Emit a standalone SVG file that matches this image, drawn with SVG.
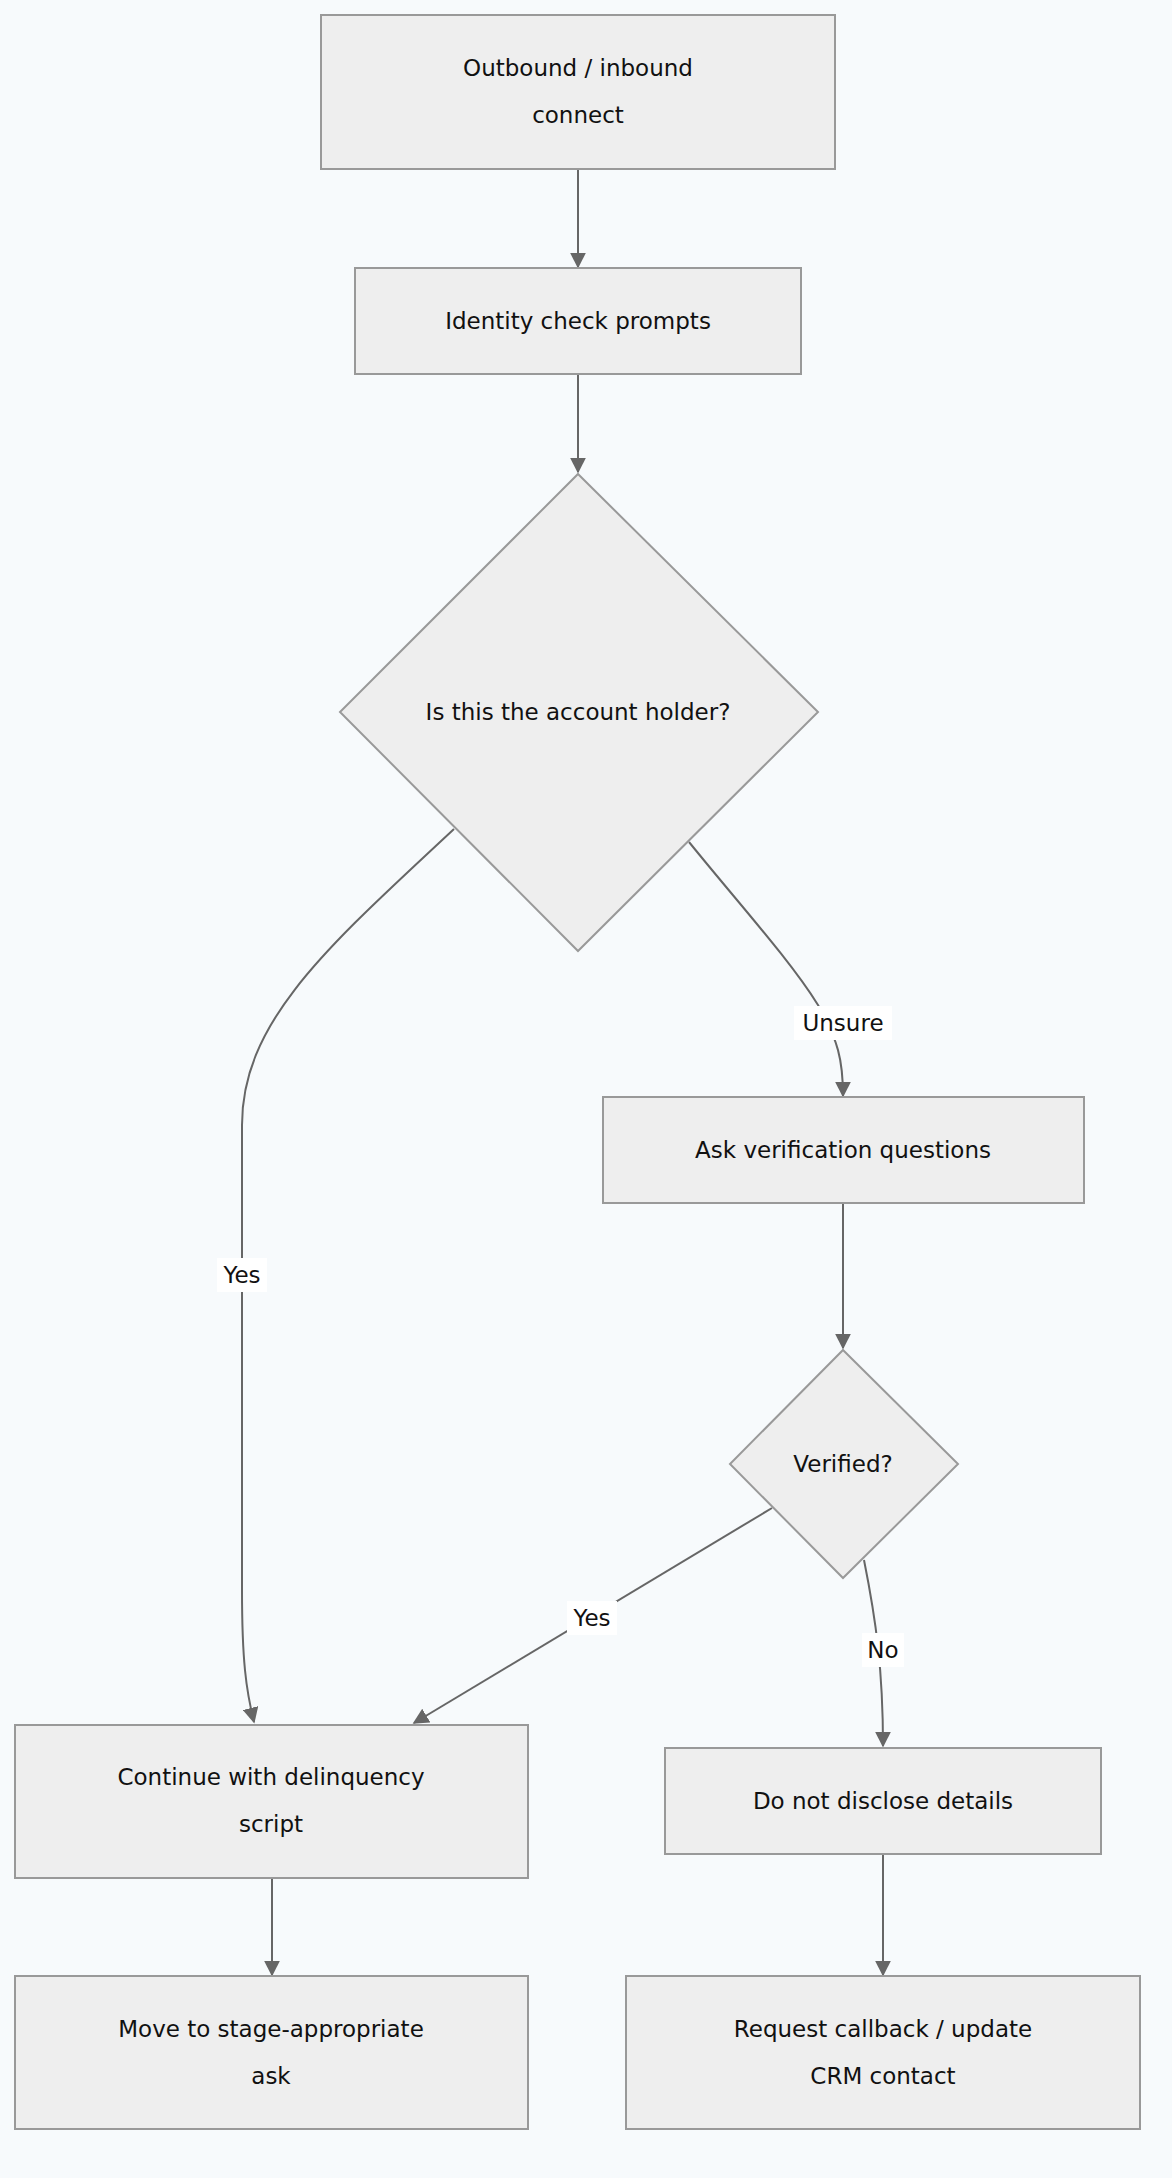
<svg xmlns="http://www.w3.org/2000/svg" width="1172" height="2178" viewBox="0 0 1172 2178">
<style>
.n{fill:#eeeeee;stroke:#999999;stroke-width:2}
.t{font-family:"DejaVu Sans",sans-serif;font-size:23px;fill:#111;text-anchor:middle;dominant-baseline:central}
.e{fill:none;stroke:#666666;stroke-width:2;marker-end:url(#a)}
.lb{fill:#ffffff}
</style>
<defs><marker id="a" viewBox="0 0 10 10" refX="9" refY="5" markerWidth="8" markerHeight="8" orient="auto"><path d="M0,0L10,5L0,10z" fill="#666666"/></marker></defs>
<rect width="1172" height="2178" fill="#f7fafc"/>
<g id="connectors">
<path class="e" d="M578,169V267"/>
<path class="e" d="M578,374V472"/>
<path class="e" d="M454,829C330,945 242,1020 242,1125V1590C242,1660 246,1690 254,1722"/>
<path class="e" d="M689,842C740,905 790,960 818,1005C838,1040 843,1060 843,1096"/>
<path class="e" d="M843,1203V1348"/>
<path class="e" d="M772,1508L414,1723"/>
<path class="e" d="M864,1560C876,1620 883,1670 883,1746"/>
<path class="e" d="M272,1878V1975"/>
<path class="e" d="M883,1854V1975"/>
<rect class="lb" x="217" y="1258" width="50" height="34"/><text class="t" x="242" y="1275">Yes</text>
<rect class="lb" x="794" y="1006" width="98" height="34"/><text class="t" x="843" y="1023">Unsure</text>
<rect class="lb" x="567" y="1601" width="50" height="34"/><text class="t" x="592" y="1618">Yes</text>
<rect class="lb" x="862" y="1633" width="42" height="34"/><text class="t" x="883" y="1650">No</text>
</g>
<g id="A"><rect class="n" x="321" y="15" width="514" height="154"/><text class="t" x="578" y="68">Outbound / inbound</text><text class="t" x="578" y="115">connect</text></g>
<g id="B"><rect class="n" x="355" y="268" width="446" height="106"/><text class="t" x="578" y="321">Identity check prompts</text></g>
<g id="C"><path class="n" d="M578,474L818,712L578,951L340,712Z"/><text class="t" x="578" y="712">Is this the account holder?</text></g>
<g id="D"><rect class="n" x="603" y="1097" width="481" height="106"/><text class="t" x="843" y="1150">Ask verification questions</text></g>
<g id="E"><path class="n" d="M843,1350L958,1464L843,1578L730,1464Z"/><text class="t" x="843" y="1464">Verified?</text></g>
<g id="F"><rect class="n" x="15" y="1725" width="513" height="153"/><text class="t" x="271" y="1777">Continue with delinquency</text><text class="t" x="271" y="1824">script</text></g>
<g id="G"><rect class="n" x="665" y="1748" width="436" height="106"/><text class="t" x="883" y="1801">Do not disclose details</text></g>
<g id="H"><rect class="n" x="15" y="1976" width="513" height="153"/><text class="t" x="271" y="2029">Move to stage-appropriate</text><text class="t" x="271" y="2076">ask</text></g>
<g id="I"><rect class="n" x="626" y="1976" width="514" height="153"/><text class="t" x="883" y="2029">Request callback / update</text><text class="t" x="883" y="2076">CRM contact</text></g>
</svg>
